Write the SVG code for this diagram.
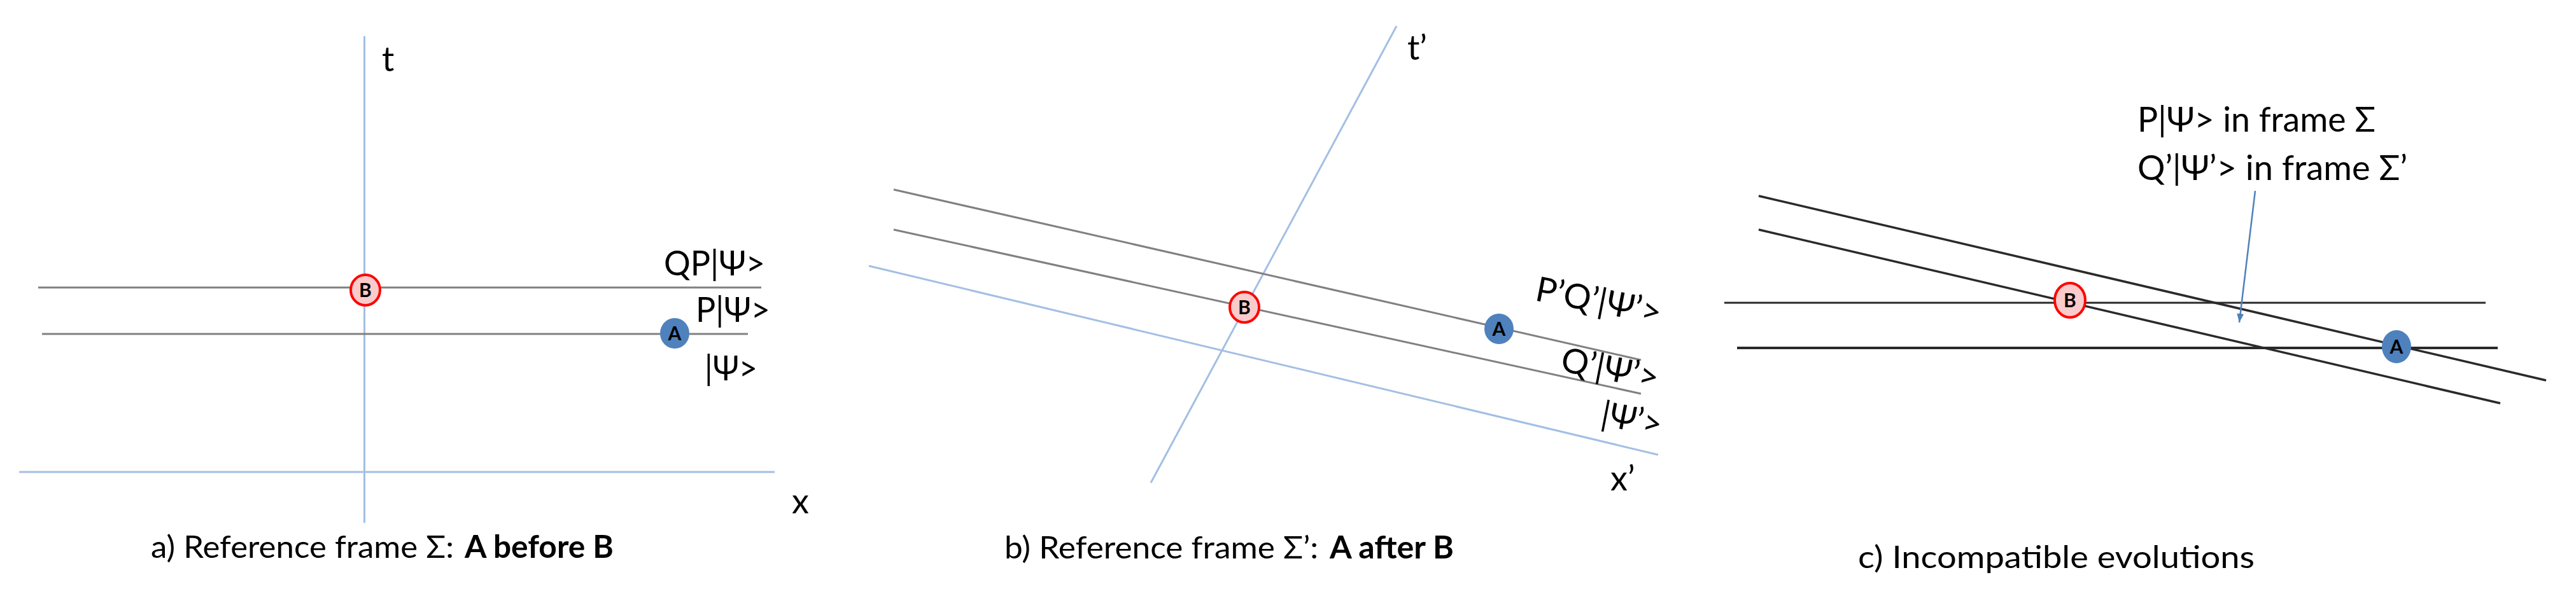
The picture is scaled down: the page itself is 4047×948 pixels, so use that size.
<svg xmlns="http://www.w3.org/2000/svg" width="4047" height="948" viewBox="0 0 4047 948">
<style>
text{font-family:Lato,"Noto Sans",sans-serif;fill:#000}
.lbl{font-size:54px}
.cap{font-size:49px}
.bold{font-weight:bold}
.ev{font-size:30px;font-weight:bold;text-anchor:middle}
.axis{stroke:#a3bfe3;stroke-width:3;fill:none}
.wl{stroke:#808080;stroke-width:3;fill:none}
.wlc{stroke:#2a2a2a;stroke-width:3.5;fill:none}
.b{fill:#fbcaca;stroke:#ff0000;stroke-width:4}
.a{fill:#4f81bd}
.arr{stroke:#4f81bd;stroke-width:2.5;fill:none}
</style>
<defs>
<marker id="ah" markerUnits="userSpaceOnUse" markerWidth="16" markerHeight="12" refX="14" refY="5.5" orient="auto">
<path d="M0,0 L14,5.5 L0,11 z" fill="#4f81bd"/>
</marker>
</defs>
<rect width="4047" height="948" fill="#fff"/>

<g id="connectors">
<!-- panel a -->
<line class="axis" x1="572.5" y1="57" x2="572.5" y2="822"/>
<line class="axis" x1="30" y1="742" x2="1217" y2="742"/>
<line class="wl" x1="60" y1="452" x2="1196" y2="452"/>
<line class="wl" x1="66" y1="525" x2="1175" y2="525"/>
<!-- panel b -->
<line class="axis" x1="2194" y1="41" x2="1808" y2="759"/>
<line class="axis" x1="1365" y1="418" x2="2605" y2="715"/>
<line class="wl" x1="1404" y1="298" x2="2578" y2="566"/>
<line class="wl" x1="1404" y1="361" x2="2578" y2="619"/>
<!-- panel c -->
<line class="wlc" x1="2709" y1="476" x2="3905" y2="476" style="stroke-width:3"/>
<line class="wlc" x1="2729" y1="547" x2="3924" y2="547" style="stroke-width:4"/>
<line class="wlc" x1="2763" y1="308" x2="4000" y2="598"/>
<line class="wlc" x1="2763" y1="361" x2="3928" y2="634"/>
<line class="arr" x1="3543" y1="300" x2="3518" y2="507" marker-end="url(#ah)"/>
</g>

<g id="nodeB_a"><ellipse class="b" cx="574" cy="456" rx="23" ry="24"/><text class="ev" x="574" y="467">B</text></g>
<g id="nodeA_a"><ellipse class="a" cx="1060" cy="524" rx="23" ry="24"/><text class="ev" x="1060" y="535">A</text></g>
<g id="nodeB_b"><ellipse class="b" cx="1955" cy="483" rx="23" ry="24"/><text class="ev" x="1955" y="494">B</text></g>
<g id="nodeA_b"><ellipse class="a" cx="2355" cy="517" rx="23" ry="24"/><text class="ev" x="2355" y="528">A</text></g>
<g id="nodeB_c"><ellipse class="b" cx="3252" cy="472" rx="24" ry="27"/><text class="ev" x="3252" y="483">B</text></g>
<g id="nodeA_c"><ellipse class="a" cx="3765" cy="545" rx="23" ry="26"/><text class="ev" x="3765" y="556">A</text></g>

<g id="labels">
<text class="lbl" x="600" y="112">t</text>
<text class="lbl" x="1043" y="433" textLength="159" lengthAdjust="spacingAndGlyphs">QP|Ψ&gt;</text>
<text class="lbl" x="1093" y="506" textLength="117" lengthAdjust="spacingAndGlyphs">P|Ψ&gt;</text>
<text class="lbl" x="1107" y="598" textLength="83" lengthAdjust="spacingAndGlyphs">|Ψ&gt;</text>
<text class="lbl" x="1244" y="807">x</text>
<text class="cap" x="237" y="877" textLength="476" lengthAdjust="spacingAndGlyphs">a) Reference frame Σ:</text>
<text class="cap bold" x="730" y="877" textLength="234" lengthAdjust="spacingAndGlyphs">A before B</text>

<text class="lbl" x="2211" y="94">t’</text>
<text class="lbl" transform="translate(2410,472) rotate(11)" textLength="200" lengthAdjust="spacingAndGlyphs">P’Q’|Ψ’&gt;</text>
<text class="lbl" transform="translate(2450,583) rotate(11)" textLength="155" lengthAdjust="spacingAndGlyphs">Q’|Ψ’&gt;</text>
<text class="lbl" transform="translate(2513,668) rotate(11)" textLength="96" lengthAdjust="spacingAndGlyphs">|Ψ’&gt;</text>
<text class="lbl" x="2530" y="771">x’</text>
<text class="cap" x="1578" y="878" textLength="493" lengthAdjust="spacingAndGlyphs">b) Reference frame Σ’:</text>
<text class="cap bold" x="2089" y="878" textLength="195" lengthAdjust="spacingAndGlyphs">A after B</text>

<text class="lbl" x="3358" y="207" textLength="374" lengthAdjust="spacingAndGlyphs">P|Ψ&gt; in frame Σ</text>
<text class="lbl" x="3358" y="283" textLength="424" lengthAdjust="spacingAndGlyphs">Q’|Ψ’&gt; in frame Σ’</text>
<text class="cap" x="2919" y="893" textLength="623" lengthAdjust="spacingAndGlyphs">c) Incompatible evolutions</text>
</g>
</svg>
